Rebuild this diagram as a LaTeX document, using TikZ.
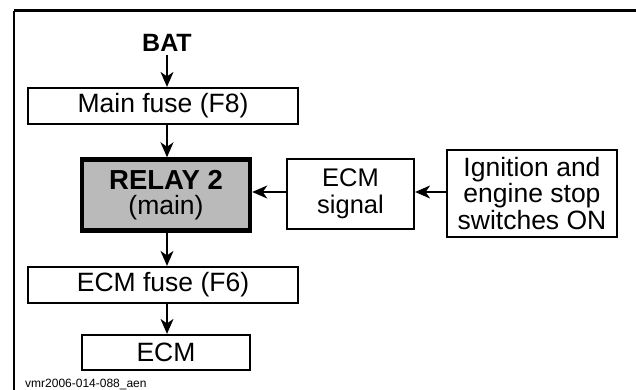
\documentclass[tikz,border=0pt]{standalone}
\usepackage{fontspec}
\setmainfont{Liberation Sans}
\usetikzlibrary{arrows.meta}
\begin{document}
\begin{tikzpicture}[x=1pt,y=-1pt,
  boxA/.style={draw=black,line width=2.2pt,inner sep=0pt,font=\fontsize{26.5}{26.5}\selectfont},
  conn/.style={line width=1.3pt,-{Stealth[length=15pt,width=13pt,inset=4.5pt]}},
  txt/.style={inner sep=0pt,font=\fontsize{25}{25}\selectfont}]
\useasboundingbox (0,0) rectangle (636,390);
% frame
\draw[line width=3pt] (14,11) -- (636,11);
\draw[line width=1.8pt] (14,11) -- (14,390);
% nodes
\node[txt,font=\bfseries\fontsize{25}{25}\selectfont] (bat) at (167,43) {BAT};
\node[boxA,minimum width=270pt,minimum height=36pt] (mf) at (163,106) {Main fuse (F8)};
\node[draw=black,line width=4.5pt,fill=black!27,minimum width=168pt,minimum height=71pt,inner sep=0pt,align=center] (relay) at (166,195)
  {{\bfseries\fontsize{27.5}{24}\selectfont RELAY 2}\\[5pt]{\fontsize{26.5}{24}\selectfont (main)}};
\node[boxA,minimum width=127pt,minimum height=70pt,align=center,font=\fontsize{25.5}{27}\selectfont] (sig) at (350.5,194) {ECM\\signal};
\node[boxA,minimum width=170pt,minimum height=87pt,align=center,font=\fontsize{26.5}{26.5}\selectfont] (ign) at (532,193.5) {Ignition and\\engine stop\\switches ON};
\node[boxA,minimum width=270pt,minimum height=36pt] (ef) at (163,285) {ECM fuse (F6)};
\node[boxA,minimum width=168pt,minimum height=35pt] (ecm) at (166,352.5) {ECM};
\node[inner sep=0pt,anchor=west,font=\fontsize{12}{12}\selectfont] (lbl) at (25,384) {vmr2006-014-088\_aen};
% connectors
\draw[conn] (bat.south) ++(0,3) coordinate (b0) -- (b0 |- mf.north);
\draw[conn] (mf.south -| bat) coordinate (m0) -- (m0 |- relay.north);
\draw[conn] (relay.south -| bat) coordinate (r0) -- (r0 |- ef.north);
\draw[conn] (ef.south -| bat) coordinate (e0) -- (e0 |- ecm.north);
\draw[conn] (sig.west |- 0,192) coordinate (s0) -- (s0 -| relay.east);
\draw[conn] (ign.west |- 0,192) coordinate (i0) -- (i0 -| sig.east);
\end{tikzpicture}
\end{document}
